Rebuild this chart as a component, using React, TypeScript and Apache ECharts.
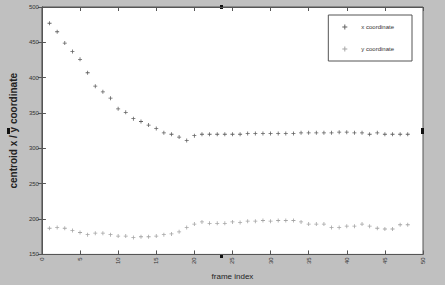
import React, { useEffect, useRef } from "react";
import * as echarts from "echarts";

const frameIndex = [1,2,3,4,5,6,7,8,9,10,11,12,13,14,15,16,17,18,19,20,21,22,23,24,25,26,27,28,29,30,31,32,33,34,35,36,37,38,39,40,41,42,43,44,45,46,47,48];
const xCoordinate = [477,465,449,437,426,407,388,380,371,356,351,342,338,333,328,322,320,316,311,318,320,320,320,320,320,320,321,321,321,321,321,321,321,322,322,322,322,322,323,323,322,322,320,322,320,320,320,320];
const yCoordinate = [187,188,187,184,181,178,180,180,178,176,176,174,175,175,176,178,179,182,188,193,196,194,194,194,196,195,197,197,198,197,198,198,198,196,193,193,193,188,188,190,190,193,190,187,186,186,192,192];
const xTicks = [0, 50, 5];
const yTicks = [150, 500, 50];

const plusPath = "path://M4,0h2v4h4v2h-4v4h-2v-4h-4v-2h4z";

export default function App() {
  const ref = useRef<HTMLDivElement>(null);
  useEffect(() => {
    if (!ref.current) return;
    const chart = echarts.init(ref.current, null, { renderer: "svg" });
    const lab = { fontSize: 6, color: "#333", fontFamily: "Liberation Sans" };
    chart.setOption({
      animation: false,
      backgroundColor: "#c0c0c0",
      grid: { left: 24, right: 22, top: 7, bottom: 29, show: true, backgroundColor: "#ffffff", borderColor: "#555", borderWidth: 1 },
      legend: {
        right: 33, top: 15, orient: "vertical", itemGap: 16,
        padding: [9, 18, 9, 14],
        backgroundColor: "#ffffff", borderColor: "#555", borderWidth: 1,
        itemWidth: 7, itemHeight: 5,
        textStyle: { fontSize: 6, color: "#333", fontFamily: "Liberation Sans", padding: [0, 0, 0, 8] },
        data: ["x coordinate", "y coordinate"],
      },
      xAxis: [
        {
          type: "value", min: xTicks[0], max: xTicks[1], interval: xTicks[2],
          name: "frame index", nameLocation: "middle", nameGap: 12,
          nameTextStyle: { fontSize: 8, color: "#222", fontFamily: "Liberation Sans Narrow, Liberation Sans" },
          axisLine: { lineStyle: { color: "#555" } },
          axisTick: { inside: true, length: 4, lineStyle: { color: "#555" } },
          axisLabel: { ...lab, rotate: 90, margin: 3 },
          splitLine: { show: false },
        },
        {
          type: "value", position: "top", min: xTicks[0], max: xTicks[1], interval: xTicks[2],
          axisLine: { lineStyle: { color: "#555" } },
          axisTick: { inside: true, length: 4, lineStyle: { color: "#555" } },
          axisLabel: { show: false }, splitLine: { show: false },
        },
      ],
      yAxis: [
        {
          type: "value", min: yTicks[0], max: yTicks[1], interval: yTicks[2],
          name: "centroid x / y coordinate", nameLocation: "middle", nameGap: 13,
          nameTextStyle: { fontSize: 10, fontWeight: "bold", color: "#222", fontFamily: "Liberation Sans" },
          axisLine: { show: true, lineStyle: { color: "#555" } },
          axisTick: { show: true, inside: true, length: 4, lineStyle: { color: "#555" } },
          axisLabel: { ...lab, margin: 3 },
          splitLine: { show: false },
        },
        {
          type: "value", position: "right", min: yTicks[0], max: yTicks[1], interval: yTicks[2],
          axisLine: { show: true, lineStyle: { color: "#555" } },
          axisTick: { show: true, inside: true, length: 4, lineStyle: { color: "#555" } },
          axisLabel: { show: false }, splitLine: { show: false },
        },
      ],
      series: [
        {
          name: "x coordinate", type: "scatter", symbol: plusPath, symbolSize: 4,
          itemStyle: { color: "#3a3a3a" },
          data: frameIndex.map((f, i) => [f, xCoordinate[i]]),
        },
        {
          name: "y coordinate", type: "scatter", symbol: plusPath, symbolSize: 4,
          itemStyle: { color: "#8f8f8f" },
          data: frameIndex.map((f, i) => [f, yCoordinate[i]]),
        },
      ],
      graphic: [
        { type: "rect", shape: { x: 7, y: 128, width: 3, height: 6 }, style: { fill: "#111" } },
        { type: "rect", shape: { x: 421, y: 128, width: 3, height: 6 }, style: { fill: "#111" } },
        { type: "rect", shape: { x: 220, y: 5, width: 3, height: 4 }, style: { fill: "#111" } },
        { type: "rect", shape: { x: 220, y: 254, width: 3, height: 4 }, style: { fill: "#111" } },
      ],
    });
    return () => chart.dispose();
  }, []);
  return <div ref={ref} style={{ position: "fixed", left: 0, top: 0, width: 445, height: 285 }} />;
}
